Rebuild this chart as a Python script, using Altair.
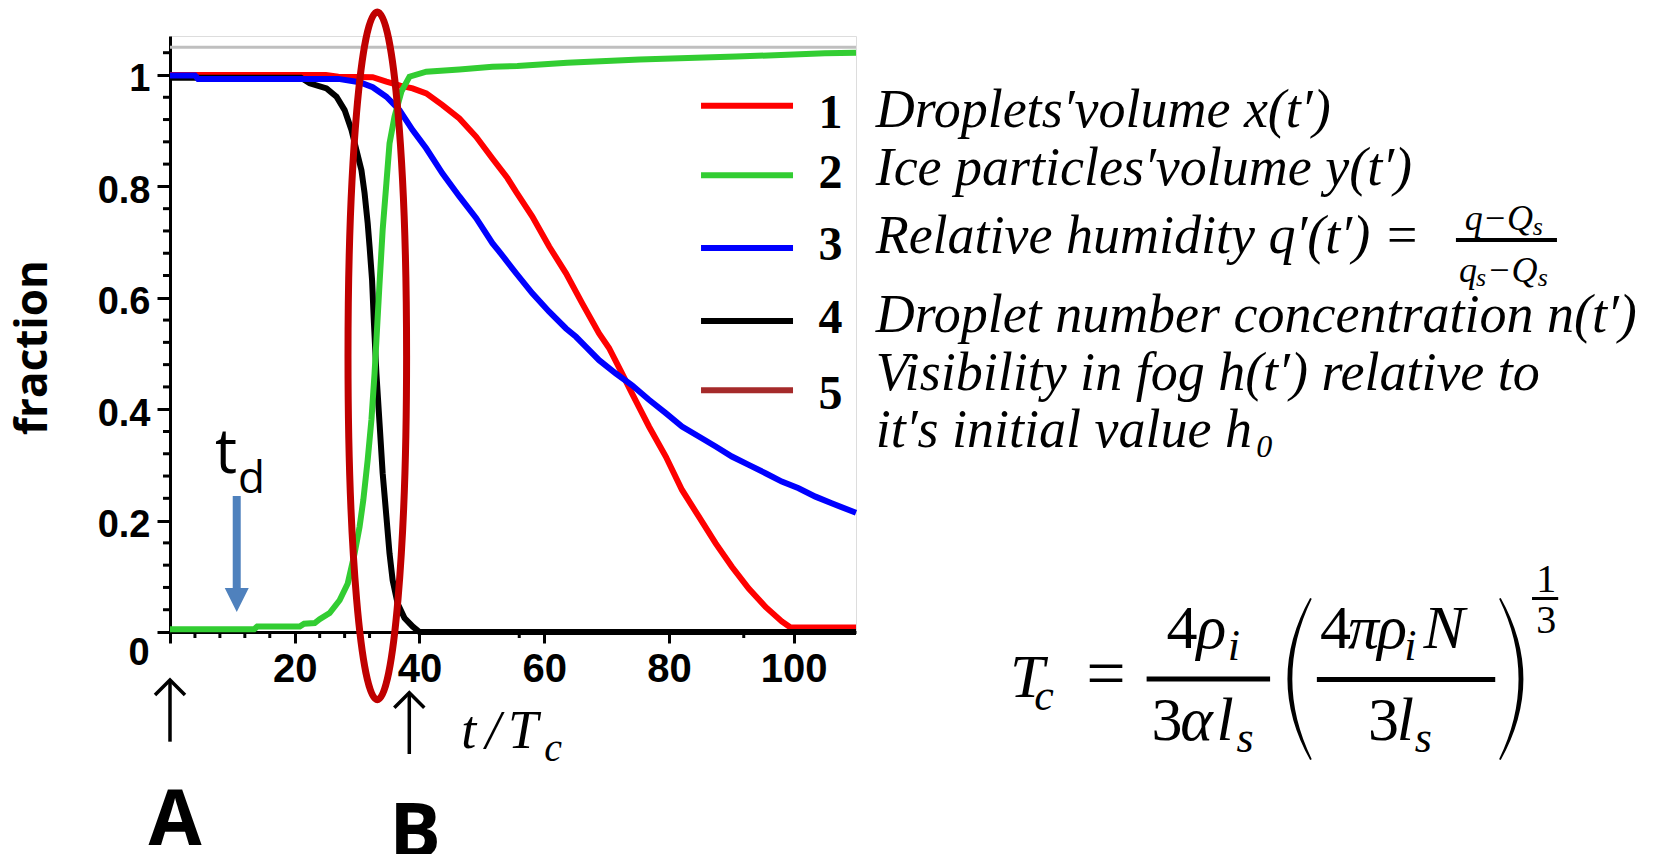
import altair as alt
import pandas as pd

# ---------------- curves (t / Tc  vs  fraction) ----------------
# 1  droplets' volume x(t')
red_t = [0, 25, 27, 32.5, 34.7, 36.9, 38.9, 41.1, 43.7, 46.4, 49.1, 51.7, 54.1, 55.5,
         58.1, 60.8, 63.5, 66.1, 68.8, 70.4, 72.5, 74.1, 76.8, 79.5, 82.1, 84.8, 87.5,
         90.1, 92.8, 95.5, 98.1, 99.5, 110]
red_v = [1.0, 1.0, 0.997, 0.996, 0.988, 0.981, 0.976, 0.967, 0.946, 0.922, 0.889, 0.850,
         0.815, 0.790, 0.746, 0.692, 0.644, 0.590, 0.536, 0.510, 0.464, 0.428, 0.369,
         0.315, 0.255, 0.207, 0.159, 0.117, 0.078, 0.045, 0.019, 0.008, 0.008]

# 2  ice particles' volume y(t')
green_t = [0, 13.5, 14, 20.8, 21.5, 23.2, 24.0, 25.6, 27.2, 28.5, 29.6, 30.4, 31.0, 31.7,
           32.3, 32.8, 33.1, 33.6, 34.1, 34.7, 35.2, 36.0, 37.1, 38.4, 41.1, 46.4, 51.7,
           55.7, 63.7, 75.3, 90.8, 105, 110]
green_v = [0.005, 0.005, 0.010, 0.010, 0.015, 0.016, 0.023, 0.034, 0.057, 0.087, 0.141,
           0.189, 0.237, 0.309, 0.381, 0.464, 0.524, 0.626, 0.722, 0.806, 0.877, 0.925,
           0.970, 0.997, 1.006, 1.010, 1.015, 1.016, 1.022, 1.028, 1.033, 1.039, 1.040]

# 3  relative humidity q'(t')
blue_t = [0, 4, 4.5, 27, 30.4, 32.5, 34.7, 36.8, 38.9, 41.1, 43.7, 46.4, 49.1, 51.7, 52.8,
          55.5, 58.1, 60.8, 63.5, 65.1, 66.7, 68.8, 71.5, 74.1, 76.8, 79.5, 82.1, 84.8,
          87.5, 90.1, 92.8, 95.5, 98.1, 100.8, 103.5, 106.1, 110]
blue_v = [0.999, 0.999, 0.993, 0.993, 0.987, 0.978, 0.961, 0.937, 0.901, 0.868, 0.823,
          0.782, 0.743, 0.698, 0.683, 0.644, 0.608, 0.575, 0.545, 0.530, 0.512, 0.488,
          0.464, 0.443, 0.417, 0.393, 0.369, 0.351, 0.333, 0.315, 0.300, 0.285, 0.270,
          0.258, 0.243, 0.231, 0.214]

# 4  droplet number concentration n(t')
black_t = [0, 21, 22.4, 25.1, 26.7, 28.0, 29.1, 29.9, 30.7, 31.2, 31.7, 32.0, 32.4, 32.7,
           33.1, 33.6, 34.1, 34.7, 35.2, 35.7, 36.5, 37.6, 38.9, 40, 110]
black_v = [0.995, 0.995, 0.985, 0.976, 0.961, 0.937, 0.901, 0.865, 0.829, 0.788, 0.734,
           0.692, 0.632, 0.555, 0.464, 0.375, 0.285, 0.207, 0.141, 0.093, 0.051, 0.025,
           0.010, 0.0, 0.0]

# ---------------- legend ----------------
legend_nums = ["1", "2", "3", "4", "5"]
legend_colors = ["#FF0000", "#32CD32", "#0000FF", "#000000", "#A52A2A"]
legend_lines = [
    "Droplets′volume x(t′)",
    "Ice particles′volume y(t′)",
    "Relative humidity q′(t′) =",
    "Droplet number concentration n(t′)",
    "Visibility in fog h(t′) relative to",
    "it′s initial value h",
]

# ---------------- axes ----------------
x_ticks = [0, 20, 40, 60, 80, 100]
x_minor = [4, 8, 12, 16, 24, 28, 32, 36, 56, 92]
y_ticks = [0, 0.2, 0.4, 0.6, 0.8, 1.0]
y_minor = [0.04, 0.08, 0.12, 0.16, 0.24, 0.28, 0.32, 0.36, 0.44, 0.48, 0.52, 0.56,
           0.64, 0.68, 0.72, 0.76, 0.84, 0.88, 0.92, 0.96, 1.04]
ref_level = 1.05

PLOT_W, PLOT_H = 686, 596
SERIF = "Liberation Serif"
SANS = "Open Sans"
TICKFONT = "Liberation Sans"

xscale = alt.Scale(domain=[0, 110], nice=False, zero=False)
yscale = alt.Scale(domain=[0, 1.07], nice=False, zero=False)

xaxis = alt.Axis(values=x_ticks, labelExpr="datum.value == 0 ? '' : datum.label",
                 tickSize=11, tickWidth=3, tickColor="black", domainWidth=3,
                 domainColor="black", labelFont=TICKFONT, labelFontWeight="bold",
                 labelFontSize=40, labelColor="black", labelPadding=6, grid=False,
                 title=None, labelFlush=False, labelOverlap=False)
yaxis = alt.Axis(values=y_ticks, format=".1~f",
                 labelExpr="datum.value == 0 ? '' : datum.label",
                 tickSize=13, tickWidth=3, tickColor="black", domainWidth=3,
                 domainColor="black", labelFont=TICKFONT, labelFontWeight="bold",
                 labelFontSize=38, labelColor="black", labelPadding=7, labelOffset=5,
                 grid=False, labelFlush=False, labelOverlap=False,
                 title="fraction", titleFont=SANS, titleFontWeight="bold",
                 titleFontSize=44, titleColor="black", titleAngle=270,
                 titleX=-137, titleY=311, titleAlign="center", titleBaseline="middle")


def X(field="t"):
    return alt.X(f"{field}:Q", scale=xscale, axis=xaxis)


def Y(field="v"):
    return alt.Y(f"{field}:Q", scale=yscale, axis=yaxis)


def curve(ts, vs, color):
    df = pd.DataFrame({"t": ts, "v": vs})
    return alt.Chart(df).mark_line(color=color, strokeWidth=6).encode(x=X(), y=Y())


def texts(rows, font, size, style="normal", weight="normal", align="left", color="black"):
    df = pd.DataFrame(rows, columns=["label", "t", "v"])
    return alt.Chart(df).mark_text(
        align=align, baseline="alphabetic", font=font, fontSize=size,
        fontStyle=style, fontWeight=weight, color=color,
    ).encode(x=X(), y=Y(), text="label:N")


def hbars(rows, width, color="black"):
    df = pd.DataFrame(rows, columns=["t", "t2", "v"])
    return alt.Chart(df).mark_rule(color=color, strokeWidth=width).encode(
        x=X(), x2="t2:Q", y=Y())


def symbol(rows, path, size, filled, color, stroke_width=1):
    df = pd.DataFrame(rows, columns=["t", "v"])
    return alt.Chart(df).mark_point(
        shape=path, size=size, filled=filled, color=color,
        strokeWidth=stroke_width, opacity=1,
    ).encode(x=X(), y=Y())


layers = []

# horizontal reference line at the top
layers.append(alt.Chart(pd.DataFrame({"v": [ref_level]}))
              .mark_rule(color="#BFBFBF", strokeWidth=3).encode(y=Y()))

# minor ticks
layers.append(alt.Chart(pd.DataFrame({"v": y_minor})).mark_rule(color="black", strokeWidth=3)
              .encode(y=Y(), x=alt.value(-7), x2=alt.value(0)))
layers.append(alt.Chart(pd.DataFrame({"t": x_minor})).mark_rule(color="black", strokeWidth=3)
              .encode(x=X(), y=alt.value(PLOT_H), y2=alt.value(PLOT_H + 6)))

# curves
layers.append(curve(red_t, red_v, legend_colors[0]))
layers.append(curve(black_t, black_v, legend_colors[3]))
layers.append(curve(blue_t, blue_v, legend_colors[2]))
layers.append(curve(green_t, green_v, legend_colors[1]))

# origin label
layers.append(texts([("0", -4.97, -0.059)], TICKFONT, 38, weight="bold", align="center"))

# legend swatches, numbers and descriptions
swatch_v = [0.9447, 0.8200, 0.6894, 0.5583, 0.4340]
layers.append(alt.Chart(pd.DataFrame({"t": [85.15] * 5, "t2": [99.9] * 5, "v": swatch_v,
                                      "c": legend_colors}))
              .mark_rule(strokeWidth=6)
              .encode(x=X(), x2="t2:Q", y=Y(), color=alt.Color("c:N", scale=None)))
num_v = [0.9054, 0.7977, 0.6679, 0.5368, 0.3998]
layers.append(texts(list(zip(legend_nums, [105.9] * 5, num_v)), SERIF, 48,
                    weight="bold", align="center"))
line_v = [0.9072, 0.8025, 0.6804, 0.5391, 0.4345, 0.3327]
layers.append(texts(list(zip(legend_lines, [113.15] * 6, line_v)), SERIF, 54, style="italic"))
# (q - Qs) / (qs - Qs)
layers.append(texts([("q−Q", 207.6, 0.7217), ("q", 206.7, 0.6289), ("−Q", 211.2, 0.6289)],
                    SERIF, 36, style="italic"))
layers.append(texts([("s", 218.5, 0.7127), ("s", 209.4, 0.6212), ("s", 219.3, 0.6212)],
                    SERIF, 26, style="italic"))
layers.append(hbars([(206.2, 222.4, 0.7038)], 4))
# h0 subscript
layers.append(texts([("0", 174.2, 0.3147)], SERIF, 32, style="italic"))

# ellipse around the transition
ELLIPSE = ("M 0 -1 C 0.0471 -1 0.0852 -0.5523 0.0852 0 C 0.0852 0.5523 0.0471 1 0 1 "
           "C -0.0471 1 -0.0852 0.5523 -0.0852 0 C -0.0852 -0.5523 -0.0471 -1 0 -1 Z")
layers.append(symbol([(33.24, 0.4957)], ELLIPSE, 473000, False, "#C00000", 7))

# t_d marker
layers.append(texts([("t", 7.2, 0.2855)], SANS, 62))
layers.append(texts([("d", 10.9, 0.2496)], SANS, 44))
layers.append(alt.Chart(pd.DataFrame({"t": [10.7], "v": [0.2442], "v2": [0.0790]}))
              .mark_rule(color="#4F81BD", strokeWidth=8).encode(x=X(), y=Y(), y2="v2:Q"))
layers.append(symbol([(10.7, 0.0575)], "M -1 -1 L 1 -1 L 0 1 Z", 576, True, "#4F81BD"))

# A / B arrows and the axis variable
CHEVRON = "M -1 0 L 0 -1 L 1 0"
layers.append(alt.Chart(pd.DataFrame({"t": [0, 38.37], "v": [-0.0898, -0.1113],
                                      "v2": [-0.1969, -0.2190]}))
              .mark_rule(color="black", strokeWidth=3.5).encode(x=X(), y=Y(), y2="v2:Q"))
layers.append(symbol([(0, -0.1131), (38.37, -0.1359)], CHEVRON, 900, False, "black", 3.5))
layers.append(texts([("A", 0.8, -0.3824), ("B", 39.3, -0.4057)], SANS, 77,
                    weight="bold", align="center"))
layers.append(texts([("t", 46.7, -0.2083), ("/", 50.6, -0.2083), ("T", 54.2, -0.2083)],
                    SERIF, 54, style="italic"))
layers.append(texts([("c", 60.0, -0.2316)], SERIF, 40, style="italic"))

# Tc formula
layers.append(texts([("T", 134.7, -0.1162), ("ρ", 164.6, -0.0287), ("α", 162.0, -0.1939),
                     ("l", 167.8, -0.1939), ("π", 188.9, -0.0287), ("ρ", 193.6, -0.0287),
                     ("N", 201.0, -0.0287), ("l", 196.7, -0.1939)],
                    SERIF, 62, style="italic"))
layers.append(texts([("c", 138.6, -0.1400), ("i", 169.6, -0.0503), ("s", 171.0, -0.2149),
                     ("i", 197.9, -0.0503), ("s", 199.6, -0.2154)],
                    SERIF, 44, style="italic"))
layers.append(texts([("4", 159.8, -0.0287), ("3", 157.4, -0.1939), ("4", 184.4, -0.0287),
                     ("3", 192.1, -0.1939)], SERIF, 62))
layers.append(texts([("=", 150.1, -0.1167)], SERIF, 70, align="center"))
layers.append(hbars([(156.6, 176.4, -0.0844), (183.9, 212.5, -0.0853)], 5))
layers.append(symbol([(181.0, -0.0844)],
                     "M 0.14 -1 Q -0.42 0 0.14 1 L 0.16 0.99 Q -0.32 0 0.16 -0.99 Z",
                     26244, True, "black"))
layers.append(symbol([(215.2, -0.0844)],
                     "M -0.14 -1 Q 0.42 0 -0.14 1 L -0.16 0.99 Q 0.32 0 -0.16 -0.99 Z",
                     26244, True, "black"))
layers.append(texts([("1", 220.7, 0.0718), ("3", 220.7, -0.0018)], SERIF, 40, align="center"))
layers.append(hbars([(218.4, 222.6, 0.0601)], 3))

chart = alt.layer(*layers).properties(
    width=PLOT_W, height=PLOT_H,
    padding={"left": 170, "top": 36, "right": 813, "bottom": 222},
    autosize=alt.AutoSizeParams(type="none"),
).configure_view(strokeWidth=0).configure(background="white")

chart.save("out.html", embed_options={"renderer": "svg", "actions": False})
